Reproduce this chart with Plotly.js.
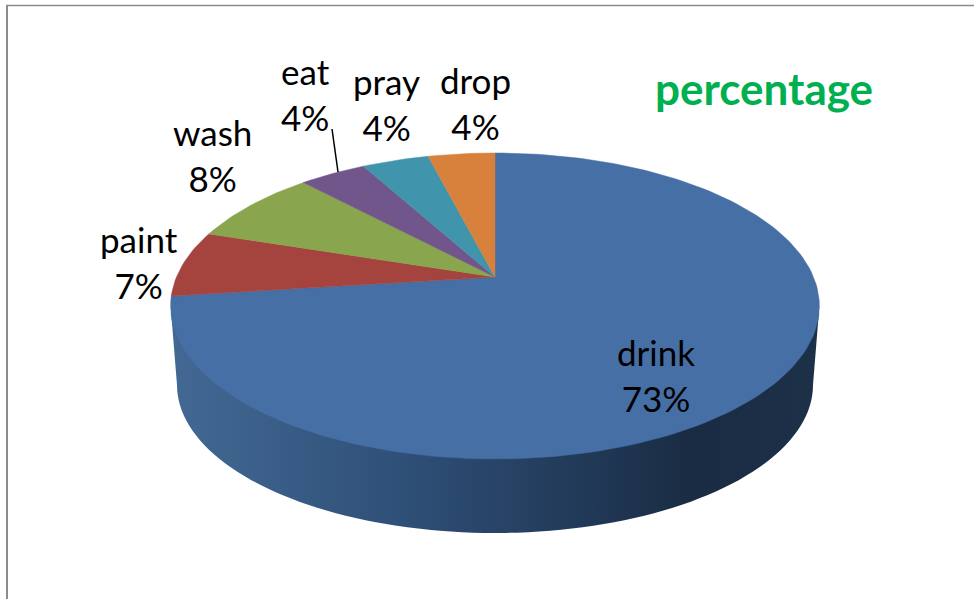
<!DOCTYPE html>
<html>
<head>
<meta charset="utf-8">
<script src="https://cdn.plot.ly/plotly-3.0.1.min.js"></script>
<style>html,body{margin:0;padding:0;background:#fff}#chart{width:974px;height:599px}</style>
</head>
<body>
<div id="chart"></div>
<script>
// Share of water use by activity, clockwise from twelve o'clock.
const categories = ['drink', 'paint', 'wash', 'eat', 'pray', 'drop'];
const shares = [73, 7, 8, 4, 4, 4];
const sliceColors = ['#456fa5', '#a5433f', '#89a54d', '#71568c', '#4095ad', '#d8813c'];
const chartTitle = 'percentage';

// Label anchors on the page, in pixels (centre of the two-line block).
const labelCentres = [[656, 374.5], [139, 261.5], [212, 155], [305, 94], [386, 104], [475, 103.5]];
const leaderLine = [[332, 129], [338, 172]];

const W = 974, H = 599;
// Tilted disc: centre pixel, pixels per unit, and perspective strength.
const apex = {x: 495, y: 277}, unitX = 318.5, unitY = 147.5, persp = 0.1896;
// Lower rim of the disc, in pixels.
const base = {cy: 385, rx: 318, ry: 148};

const rad = d => d * Math.PI / 180;
function rim(deg) {
  const X = Math.sin(rad(deg)), Z = Math.cos(rad(deg)), d = 1 + persp * Z;
  return [X / d, Z / d];
}

const traces = [];

// Side wall: lower half of the base rim, closed across the back behind the top face.
const wall = {x: [], y: []};
for (let a = 180; a <= 360; a += 2) {
  wall.x.push(base.rx * Math.cos(rad(a)) / unitX);
  wall.y.push((apex.y - base.cy + base.ry * Math.sin(rad(a))) / unitY);
}
const rimDeg = Math.acos(-persp) * 180 / Math.PI;
const rightEdge = rim(rimDeg), leftEdge = rim(360 - rimDeg);
wall.x.push(rightEdge[0], leftEdge[0]);
wall.y.push(rightEdge[1], leftEdge[1]);
wall.x.push(wall.x[0]); wall.y.push(wall.y[0]);
traces.push({
  type: 'scatter', mode: 'none', x: wall.x, y: wall.y, fill: 'toself',
  fillgradient: {
    type: 'horizontal',
    colorscale: [[0, '#426894'], [0.1, '#3d628c'], [0.35, '#2f5078'], [0.6, '#233c5c'],
                 [0.8, '#1a2c44'], [1, '#1c3048']]
  },
  hoverinfo: 'skip', showlegend: false
});

// Top face: one filled sector per category.
const total = shares.reduce((s, v) => s + v, 0);
let running = 0;
categories.forEach((name, i) => {
  const from = running / total * 360;
  running += shares[i];
  const to = running / total * 360;
  const xs = [0], ys = [0];
  const steps = Math.max(2, Math.ceil((to - from) / 1.5));
  for (let s = 0; s <= steps; s++) {
    const p = rim(from + (to - from) * s / steps);
    xs.push(p[0]); ys.push(p[1]);
  }
  xs.push(0); ys.push(0);
  traces.push({
    type: 'scatter', mode: 'lines', x: xs, y: ys, fill: 'toself',
    fillcolor: sliceColors[i], line: {color: sliceColors[i], width: 0.5},
    name: name, hoverinfo: 'skip', showlegend: false
  });
});

// Leader line from the "eat" label to its slice.
traces.push({
  type: 'scatter', mode: 'lines',
  x: leaderLine.map(p => (p[0] - apex.x) / unitX),
  y: leaderLine.map(p => (apex.y - p[1]) / unitY),
  line: {color: '#000', width: 1.5}, hoverinfo: 'skip', showlegend: false
});

const labelFont = {family: 'Lato, sans-serif', size: 35, color: '#000'};
const annotations = categories.map((name, i) => ({
  xref: 'paper', yref: 'paper', xanchor: 'center', yanchor: 'middle',
  x: labelCentres[i][0] / W, y: 1 - labelCentres[i][1] / H,
  text: name + '<br>' + shares[i] + '%', showarrow: false, font: labelFont
}));
annotations.push({
  xref: 'paper', yref: 'paper', xanchor: 'center', yanchor: 'middle',
  x: 764 / W, y: 1 - 88 / H, text: '<b>' + chartTitle + '</b>', showarrow: false,
  font: {family: 'Lato, sans-serif', size: 44, color: '#00b050'}
});

const frame = {color: '#8c8c8c', width: 2};
const layout = {
  width: W, height: H, margin: {l: 0, r: 0, t: 0, b: 0},
  paper_bgcolor: '#fff', plot_bgcolor: '#fff', showlegend: false,
  xaxis: {visible: false, fixedrange: true, range: [-apex.x / unitX, (W - apex.x) / unitX]},
  yaxis: {visible: false, fixedrange: true, range: [(apex.y - H) / unitY, apex.y / unitY]},
  annotations: annotations,
  shapes: [
    {type: 'line', xref: 'paper', yref: 'paper', x0: 7 / W, x1: 7 / W, y0: 0, y1: 1 - 5 / H, line: frame},
    {type: 'line', xref: 'paper', yref: 'paper', x0: 6 / W, x1: 1, y0: 1 - 5.5 / H, y1: 1 - 5.5 / H, line: {color: '#8c8c8c', width: 1.5}}
  ]
};

Plotly.newPlot('chart', traces, layout, {displayModeBar: false, staticPlot: true});
</script>
</body>
</html>
